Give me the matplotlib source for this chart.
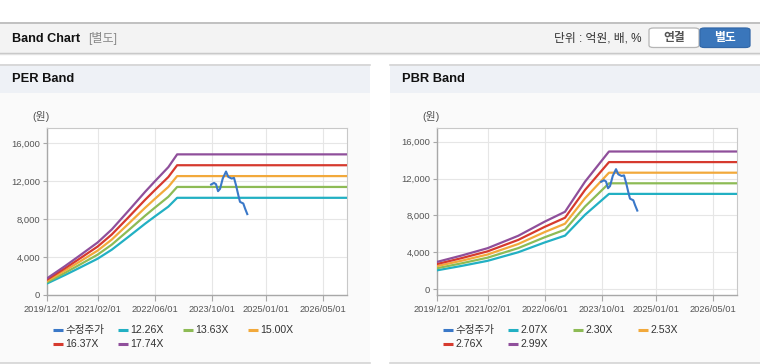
import matplotlib
matplotlib.use('Agg')
import matplotlib.pyplot as plt
from matplotlib.patches import Rectangle, FancyBboxPatch
from matplotlib.lines import Line2D
import pandas as pd

FAM = ['Liberation Sans', 'Noto Sans CJK KR', 'DejaVu Sans']
plt.rcParams['font.family'] = FAM

# ---------------- data ----------------
price_dates = ['2023-09-25', '2023-10-20', '2023-11-06', '2023-11-23', '2023-12-10',
               '2024-01-02', '2024-01-30', '2024-02-18', '2024-03-18', '2024-04-07',
               '2024-04-24', '2024-05-17', '2024-05-28', '2024-06-25', '2024-07-10',
               '2024-07-29']
price_values = [11650, 11820, 11680, 10950, 11190, 12280, 13020, 12460, 12280, 12350,
                11580, 10350, 9820, 9650, 9120, 8530]

per_dates = ['2019-12-01', '2020-04-30', '2020-08-20', '2021-02-01', '2021-06-02',
             '2021-10-21', '2022-03-12', '2022-06-01', '2022-09-26', '2022-12-10',
             '2026-11-22']
per_eps = [100, 172, 228, 312, 390, 500, 613, 674, 760, 836, 836]
per_multiples = [12.26, 13.63, 15.00, 16.37, 17.74]

pbr_dates = ['2019-12-01', '2020-06-26', '2021-02-01', '2021-10-20', '2022-06-01',
             '2022-11-22', '2023-05-11', '2023-12-01', '2026-11-22']
pbr_bps = [995, 1225, 1490, 1940, 2450, 2810, 3900, 4995, 4995]
pbr_multiples = [2.07, 2.30, 2.53, 2.76, 2.99]

x_tick_labels = ['2019/12/01', '2021/02/01', '2022/06/01', '2023/10/01', '2025/01/01', '2026/05/01']
y_ticks = [0, 4000, 8000, 12000, 16000]
price_label = '수정주가'

band_colors = ['#22b0c3', '#8dbb55', '#f2a93b', '#d63a2e', '#8f4f9b']
price_color = '#3a78c8'

# ---------------- figure ----------------
W, H = 760, 364
fig = plt.figure(figsize=(W / 100, H / 100), dpi=100)
fig.patch.set_facecolor('white')


def fx(x):
    return x / W


def fy(y):
    return 1 - y / H


def rect(x0, y0, x1, y1, fc, ec='none', lw=0, z=0):
    fig.add_artist(Rectangle((fx(x0), fy(y1)), fx(x1) - fx(x0), fy(y0) - fy(y1),
                             transform=fig.transFigure, facecolor=fc, edgecolor=ec,
                             linewidth=lw, zorder=z))


def hline(x0, x1, y, color, lw=1.0, z=1):
    fig.add_artist(Line2D([fx(x0), fx(x1)], [fy(y), fy(y)], transform=fig.transFigure,
                          color=color, linewidth=lw, zorder=z))


# header bar
rect(0, 22, 760, 53, '#f3f3f3')
hline(0, 760, 22.5, '#b8b8b8', 1.2)
hline(0, 760, 53, '#c4c4c4', 1.0)
hline(0, 760, 54.2, '#e2e2e2', 1.0)
fig.text(fx(12), fy(38.5), 'Band Chart', fontsize=9.1, fontweight='bold', color='#111111',
         va='center', ha='left')
fig.text(fx(88), fy(38.5), '[별도]', fontsize=8.7, color='#888888', va='center', ha='left')
fig.text(fx(641), fy(38.5), '단위 : 억원, 배, %', fontsize=8.5, color='#333333',
         va='center', ha='right')
# buttons
fig.add_artist(FancyBboxPatch((fx(649), fy(47.5)), fx(50), fy(28) - fy(47.5),
                              boxstyle='round,pad=0,rounding_size=0.006',
                              transform=fig.transFigure, facecolor='white',
                              edgecolor='#b5b5b5', linewidth=0.9, zorder=2))
fig.text(fx(674), fy(38.5), '연결', fontsize=8.5, fontweight='bold', color='#555555',
         va='center', ha='center', zorder=3)
fig.add_artist(FancyBboxPatch((fx(700), fy(47.5)), fx(50), fy(28) - fy(47.5),
                              boxstyle='round,pad=0,rounding_size=0.006',
                              transform=fig.transFigure, facecolor='#3a76bb',
                              edgecolor='#3368a8', linewidth=0.9, zorder=2))
fig.text(fx(725), fy(38.5), '별도', fontsize=8.5, fontweight='bold', color='white',
         va='center', ha='center', zorder=3)

# panels
panels = [(0, 370, 'PER Band'), (390, 760, 'PBR Band')]
for (px0, px1, title) in panels:
    rect(px0, 64, px1, 93, '#eef1f6')
    rect(px0, 93, px1, 363, '#fafafa')
    hline(px0, px1, 64.5, '#d4d4d4', 1.2)
    hline(px0, px1, 363.3, '#d4d4d4', 1.2)
    fig.text(fx(px0 + 12), fy(79), title, fontsize=9.3, fontweight='bold', color='#111111',
             va='center', ha='left')
    fig.text(fx(px0 + 32), fy(117), '(원)', fontsize=7.8, color='#555555',
             va='center', ha='left')


def style_axes(ax, ylim):
    ax.set_facecolor('white')
    ax.set_xlim(pd.Timestamp('2019-12-01'), pd.Timestamp('2026-11-22'))
    ax.set_ylim(*ylim)
    ax.set_xticks([pd.Timestamp(t.replace('/', '-')) for t in x_tick_labels])
    ax.set_xticklabels(x_tick_labels)
    ax.set_yticks(y_ticks)
    ax.set_yticklabels([f'{v:,}' for v in y_ticks])
    ax.grid(True, color='#e6e6e6', linewidth=0.8)
    ax.set_axisbelow(True)
    for s in ['top', 'right']:
        ax.spines[s].set_color('#c8c8c8')
        ax.spines[s].set_linewidth(0.8)
    for s in ['left', 'bottom']:
        ax.spines[s].set_color('#a8a8a8')
        ax.spines[s].set_linewidth(1.0)
    ax.tick_params(axis='x', length=4, width=0.8, color='#a8a8a8', labelsize=6.7,
                   labelcolor='#555555', pad=3)
    ax.tick_params(axis='y', length=3, width=0.8, color='#a8a8a8', labelsize=6.8,
                   labelcolor='#555555', pad=2)


def draw_legend(px0, labels):
    col_x = [53, 118, 183, 248]
    rows = [330, 344]
    colors = [price_color] + band_colors
    for i, (lab, col) in enumerate(zip(labels, colors)):
        r = rows[i // 4]
        cx = px0 + col_x[i % 4]
        fig.add_artist(Line2D([fx(cx), fx(cx + 10)], [fy(r), fy(r)],
                              transform=fig.transFigure, color=col, linewidth=2.2,
                              solid_capstyle='butt'))
        fig.text(fx(cx + 12.5), fy(r), lab, fontsize=7.6, color='#333333',
                 va='center', ha='left')


specs = [
    (47.3, per_dates, per_eps, per_multiples, (0, 17580), 0),
    (437.3, pbr_dates, pbr_bps, pbr_multiples, (-620, 17450), 390),
]
for (ax_left, bdates, base, mults, ylim, px0) in specs:
    ax = fig.add_axes([fx(ax_left), fy(295), 299.4 / W, (295 - 128.3) / H])
    style_axes(ax, ylim)
    bd = pd.to_datetime(bdates)
    for m, c in zip(mults, band_colors):
        ax.plot(bd, [m * b for b in base], color=c, linewidth=1.6, zorder=3)
    ax.plot(pd.to_datetime(price_dates), price_values, color=price_color, linewidth=1.5,
            zorder=4)
    labels = [price_label] + [f'{m:.2f}X' for m in mults]
    draw_legend(px0, labels)

fig.savefig('out.png', dpi=100, facecolor='white')
